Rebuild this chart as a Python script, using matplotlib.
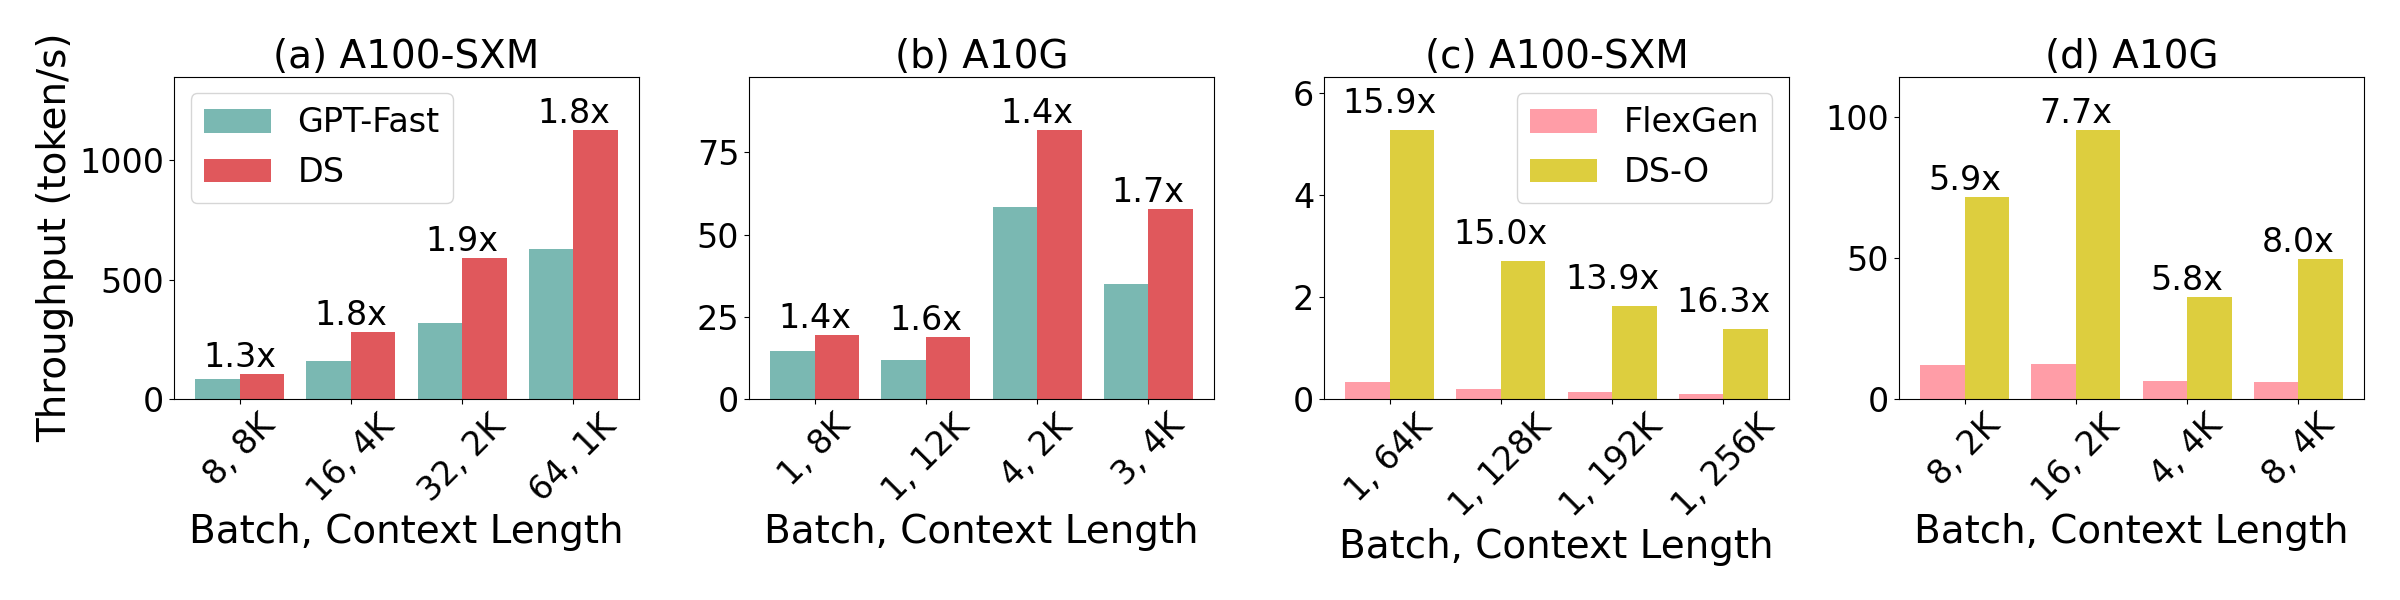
import matplotlib
matplotlib.use("Agg")
import matplotlib.pyplot as plt
import numpy as np

# Panel (a) A100-SXM
a_cats = ["8, 8K", "16, 4K", "32, 2K", "64, 1K"]
a_gptfast = [85, 160, 318, 627]
a_ds = [106, 280, 590, 1125]
a_labels = ["1.3x", "1.8x", "1.9x", "1.8x"]

# Panel (b) A10G
b_cats = ["1, 8K", "1, 12K", "4, 2K", "3, 4K"]
b_gptfast = [14.5, 11.9, 58.4, 35.0]
b_ds = [19.6, 18.8, 81.7, 57.8]
b_labels = ["1.4x", "1.6x", "1.4x", "1.7x"]

# Panel (c) A100-SXM offloading
c_cats = ["1, 64K", "1, 128K", "1, 192K", "1, 256K"]
c_flexgen = [0.33, 0.19, 0.135, 0.09]
c_dso = [5.27, 2.70, 1.82, 1.37]
c_labels = ["15.9x", "15.0x", "13.9x", "16.3x"]

# Panel (d) A10G offloading
d_cats = ["8, 2K", "16, 2K", "4, 4K", "8, 4K"]
d_flexgen = [12.2, 12.3, 6.3, 6.2]
d_dso = [71.6, 95.4, 36.2, 49.7]
d_labels = ["5.9x", "7.7x", "5.8x", "8.0x"]

C_GPT = "#7AB8B2"
C_DS = "#E0585C"
C_FLEX = "#FF9DA7"
C_DSO = "#DDCE3E"

fig, axes = plt.subplots(1, 4, figsize=(24, 6), dpi=100)
fig.subplots_adjust(left=0.0725, right=0.985, top=0.8725, bottom=0.335, wspace=0.2366)

panels = [
    ("(a) A100-SXM", a_cats, a_gptfast, a_ds, a_labels, "GPT-Fast", "DS", C_GPT, C_DS, "upper left", 0.0),
    ("(b) A10G", b_cats, b_gptfast, b_ds, b_labels, None, None, C_GPT, C_DS, None, 0.0),
    ("(c) A100-SXM", c_cats, c_flexgen, c_dso, c_labels, "FlexGen", "DS-O", C_FLEX, C_DSO, "upper right", 0.2),
    ("(d) A10G", d_cats, d_flexgen, d_dso, d_labels, None, None, C_FLEX, C_DSO, None, 0.0),
]

w = 0.4
for ax, (title, cats, base, ours, labels, n1, n2, c1, c2, loc, off) in zip(axes, panels):
    x = np.arange(len(cats))
    ax.bar(x - w / 2, base, w, color=c1, label=n1)
    ax.bar(x + w / 2, ours, w, color=c2, label=n2)
    for xi, h, lab in zip(x, ours, labels):
        ax.text(xi, h + off, lab, ha="center", va="bottom", fontsize=24)
    ax.set_ylim(0, max(ours) * 1.2)
    ax.set_xticks(x)
    ax.set_xticklabels(cats, rotation=45, fontsize=24)
    ax.tick_params(axis="y", labelsize=24)
    ax.set_title(title, fontsize=28)
    ax.set_xlabel("Batch, Context Length", fontsize=28)
    if loc:
        ax.legend(loc=loc, fontsize=24)

axes[0].set_ylabel("Throughput (token/s)", fontsize=28)

fig.savefig("out.png", dpi=100)
